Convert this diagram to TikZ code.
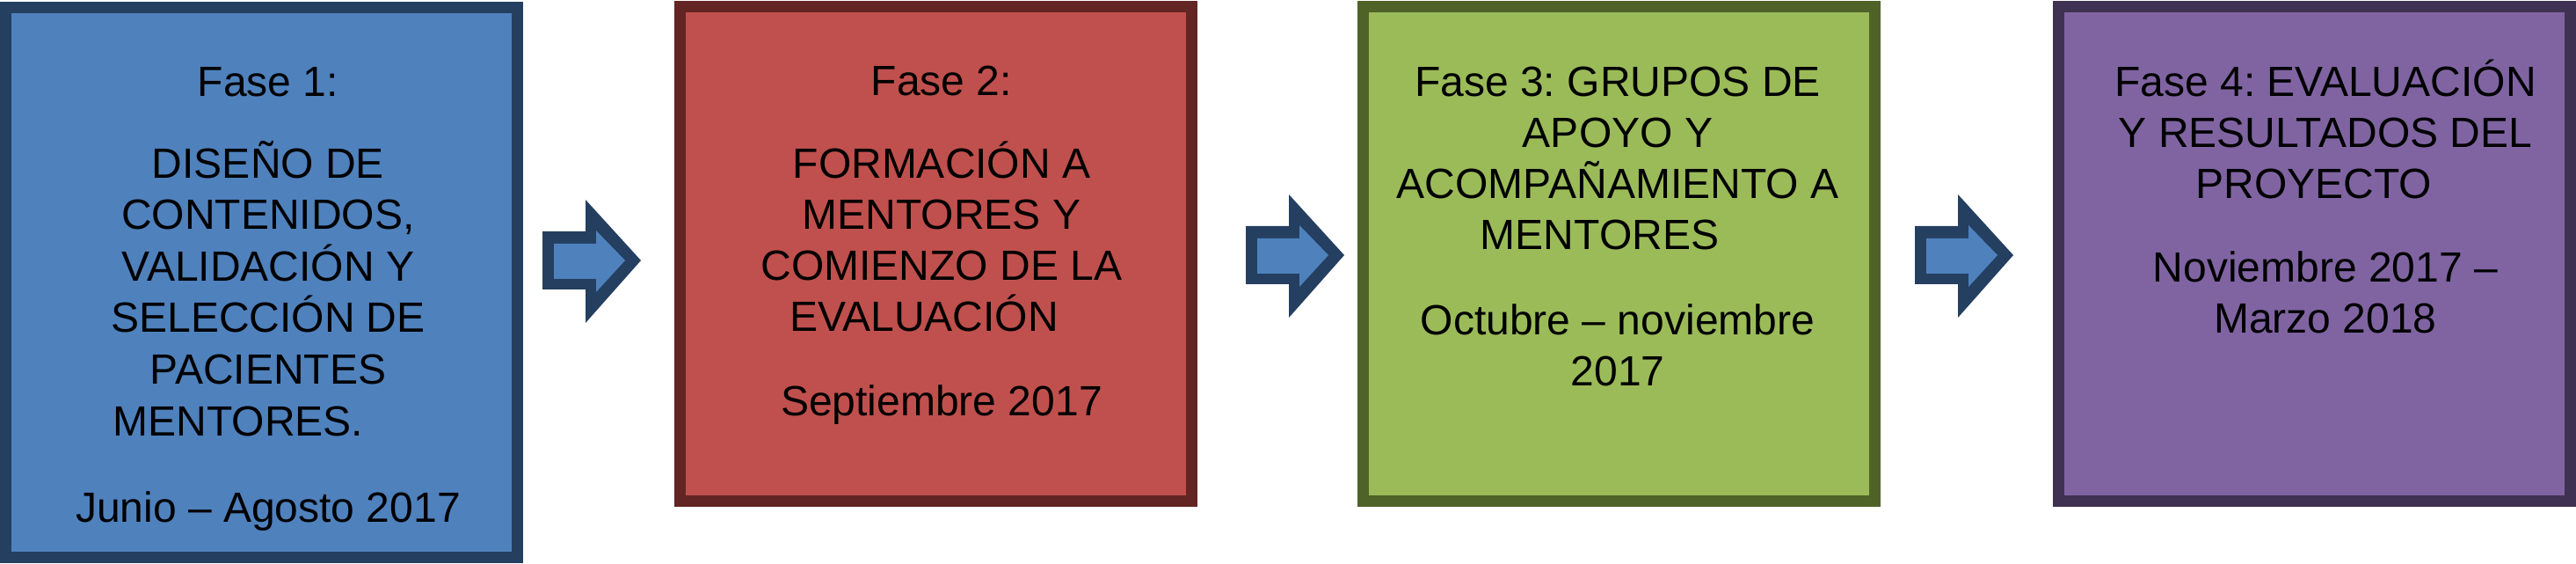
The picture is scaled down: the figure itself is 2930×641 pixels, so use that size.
\documentclass[tikz,border=0pt]{standalone}
\usepackage{fontspec}
\setmainfont{Liberation Sans}
\frenchspacing
\definecolor{fillA}{HTML}{4F81BD}
\definecolor{drawA}{HTML}{243F60}
\definecolor{fillB}{HTML}{C0504D}
\definecolor{drawB}{HTML}{632523}
\definecolor{fillC}{HTML}{9BBB59}
\definecolor{drawC}{HTML}{4F6228}
\definecolor{fillD}{HTML}{8064A2}
\definecolor{drawD}{HTML}{3F3151}
\begin{document}
\begin{tikzpicture}[x=0.5pt,y=-0.5pt,
  phase/.style={rectangle, line width=6.5pt, minimum width=291pt, minimum height=281pt, inner sep=0pt, outer sep=0pt},
  txt/.style={align=center, font=\fontsize{24pt}{29pt}\selectfont\frenchspacing, inner sep=0pt, anchor=base, text=black},
  blockarrow/.pic={
    \fill[drawA] (0,-33) -- (49,-33) -- (49,-69) -- (112,0) -- (49,71) -- (49,33) -- (0,33) -- cycle;
    \fill[fillA] (13,-19) -- (61,-19) -- (61,-34) -- (94,0) -- (61,36) -- (61,21) -- (13,21) -- cycle;
  }]
\useasboundingbox (0,0) rectangle (2930,641);
% boxes
\node[phase, fill=fillA, draw=drawA, minimum height=312.5pt] (b1) at (297,321) {};
\node[phase, fill=fillB, draw=drawB] (b2) at (1064.5,288.5) {};
\node[phase, fill=fillC, draw=drawC] (b3) at (1841.5,288.5) {};
\node[phase, fill=fillD, draw=drawD] (b4) at (2632.5,288.5) {};
% arrows
\pic (a1) at (617,296) {blockarrow};
\pic (a2) at (1417,290) {blockarrow};
\pic (a3) at (2178,290) {blockarrow};
% texts box 1 (anchor = baseline of last line)
\node[txt] (t1a) at (305,110) {Fase 1:};
\node[txt, font=\fontsize{24pt}{29.3pt}\selectfont] (t1b) at (305,495) {DISEÑO DE\\CONTENIDOS,\\VALIDACIÓN Y\\SELECCIÓN DE\\PACIENTES\\MENTORES.\hspace*{34pt}};
\node[txt] (t1c) at (305,593) {Junio – Agosto 2017};
% texts box 2
\node[txt] (t2a) at (1071,109) {Fase 2:};
\node[txt] (t2b) at (1071,377) {FORMACIÓN A\\MENTORES Y\\COMIENZO DE LA\\EVALUACIÓN\hspace*{20pt}};
\node[txt] (t2c) at (1071,473) {Septiembre 2017};
% texts box 3
\node[txt] (t3a) at (1840,284) {Fase 3: GRUPOS DE\\APOYO Y\\ACOMPAÑAMIENTO A\\MENTORES\hspace*{20.5pt}};
\node[txt] (t3b) at (1840,439) {Octubre – noviembre\\2017};
% texts box 4
\node[txt] (t4a) at (2645,226) {Fase 4: EVALUACIÓN\\Y RESULTADOS DEL\\PROYECTO\hspace*{13pt}};
\node[txt] (t4b) at (2645,379) {Noviembre 2017 –\\Marzo 2018};
\end{tikzpicture}
\end{document}
